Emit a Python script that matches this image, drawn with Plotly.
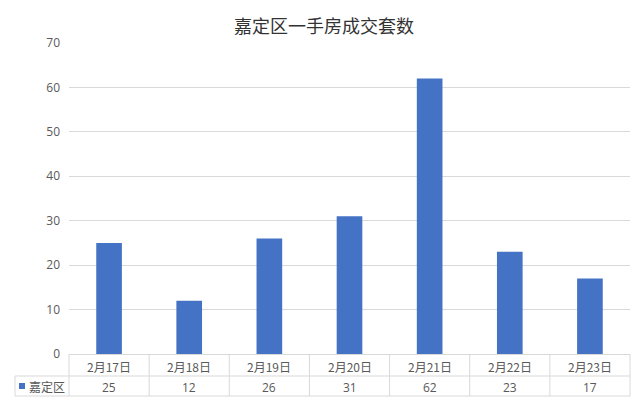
import plotly.graph_objects as go

categories = ["2月17日", "2月18日", "2月19日", "2月20日", "2月21日", "2月22日", "2月23日"]
series_name = "嘉定区"
values = [25, 12, 26, 31, 62, 23, 17]
y_ticks = [0, 10, 20, 30, 40, 50, 60, 70]

# page has an 8px body margin; the figure is placed at (8, 8)
OFF = 8
W, H = 640 - OFF, 406 - OFF
L, R, T, B = 69 - OFF, 10, 43 - OFF, 52
plot_h = H - T - B
plot_w = W - L - R
n = len(categories)

def py(pix):  # page pixel y -> paper y
    return (H - B - (pix - OFF)) / plot_h

def px(pix):  # page pixel x -> paper x
    return ((pix - OFF) - L) / plot_w

grid_col = "#D9D9D9"
txt_col = "#595959"
bar_col = "#4472C4"
font_main = "Noto Sans CJK SC"

fig = go.Figure()
fig.add_trace(go.Bar(x=categories, y=values, marker=dict(color=bar_col, line=dict(width=0)),
                     name=series_name, showlegend=False))

shapes = []
annotations = []

row1_top, row1_bot, row2_bot = 354, 376, 396
for yy in [row1_bot, row2_bot]:
    shapes.append(dict(type="line", xref="paper", yref="paper", x0=px(15), x1=1,
                       y0=py(yy), y1=py(yy), line=dict(color=grid_col, width=1)))
for i in range(n + 1):
    xx = i / n
    shapes.append(dict(type="line", xref="paper", yref="paper", x0=xx, x1=xx,
                       y0=py(row1_top), y1=py(row2_bot), line=dict(color=grid_col, width=1)))
shapes.append(dict(type="line", xref="paper", yref="paper", x0=px(15), x1=px(15),
                   y0=py(row1_bot), y1=py(row2_bot), line=dict(color=grid_col, width=1)))
shapes.append(dict(type="rect", xref="paper", yref="paper", x0=px(19), x1=px(25),
                   y0=py(389), y1=py(383), fillcolor=bar_col, line=dict(width=0)))

for c, v in zip(categories, values):
    annotations.append(dict(x=c, xref="x", y=py((row1_top + row1_bot) / 2 + 1), yref="paper",
                            text=c, showarrow=False, font=dict(family=font_main, size=12, color=txt_col),
                            xanchor="center", yanchor="middle"))
    annotations.append(dict(x=c, xref="x", y=py((row1_bot + row2_bot) / 2 + 1), yref="paper",
                            text=str(v), showarrow=False, font=dict(family="Open Sans", size=12, color=txt_col),
                            xanchor="center", yanchor="middle"))
annotations.append(dict(x=px(27), xref="paper", y=py((row1_bot + row2_bot) / 2), yref="paper",
                        text=series_name, showarrow=False, font=dict(family=font_main, size=12, color=txt_col),
                        xanchor="left", yanchor="middle"))

fig.update_layout(
    width=W, height=H,
    margin=dict(l=L, r=R, t=T, b=B),
    paper_bgcolor="white", plot_bgcolor="white",
    bargap=0.68,
    title=dict(text="嘉定区一手房成交套数", x=0.5, xanchor="center", y=1 - (27 - OFF) / H, yanchor="middle",
               font=dict(family=font_main, size=18, color="#333333")),
    xaxis=dict(showticklabels=False, showline=True, linecolor=grid_col, linewidth=1,
               ticks="", showgrid=False, zeroline=False),
    yaxis=dict(range=[0, 70], tickvals=y_ticks, showgrid=True, gridcolor=grid_col, gridwidth=1,
               zeroline=False, showline=False, ticks="", ticklabelstandoff=8,
               tickfont=dict(family="Open Sans", size=12, color=txt_col)),
    shapes=shapes, annotations=annotations,
)

fig.write_html("out.html")
